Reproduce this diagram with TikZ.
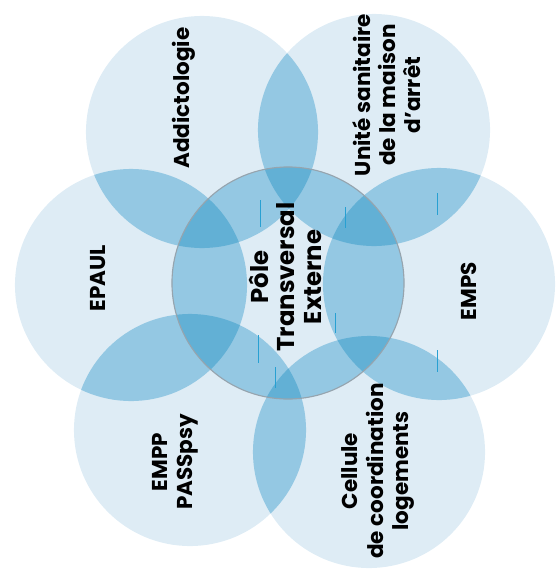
\documentclass[tikz,border=0pt]{standalone}
\usepackage{fontspec}
\setmainfont{Poppins}
\usepackage{tikz}
\usetikzlibrary{positioning,calc}
\definecolor{lite}{RGB}{222,236,245}
\definecolor{mid}{RGB}{148,200,227}
\definecolor{deep}{RGB}{98,176,213}
\definecolor{rim}{RGB}{150,164,174}
\definecolor{tick}{RGB}{40,160,210}
\newcommand{\rad}{2.9cm}
\newcommand{\petalfont}{\fontsize{15.3}{17.8}\selectfont\bfseries}
\newcommand{\hubfont}{\fontsize{17.3}{18.9}\selectfont\bfseries}
\tikzset{petal/.style={rotate=90,align=center,font=\petalfont},
         hub/.style={rotate=90,align=center,font=\hubfont}}

\begin{document}
\begin{tikzpicture}[x=0.025cm,y=-0.025cm]
    \useasboundingbox (0,0) rectangle (557,572);
    \coordinate (pole) at (288,283);
    \coordinate (addicto) at (202,132);  \coordinate (usma) at (374,130);
    \coordinate (epaul) at (131,285);    \coordinate (emps) at (439,284);
    \coordinate (empp) at (190,430);     \coordinate (cellule) at (369,452);
    	\foreach \c in {pole,addicto,usma,emps,cellule,empp,epaul}
     		\fill[lite] (\c) circle (\rad);
    	\foreach \c in {addicto,usma,emps,cellule,empp,epaul}
     		{\begin{scope} \clip (pole) circle (\rad); \fill[mid] (\c) circle (\rad); \end{scope}}
    	\foreach \a/\b in {addicto/usma,usma/emps,emps/cellule,cellule/empp,empp/epaul,epaul/addicto}
     		{\begin{scope} \clip (\a) circle (\rad); \fill[mid] (\b) circle (\rad); \end{scope}
     		 \begin{scope} \clip (pole) circle (\rad); \clip (\a) circle (\rad); \fill[deep] (\b) circle (\rad); \end{scope}}
		\draw[rim,line width=0.8pt] (pole) circle (\rad);
    	\foreach \x/\ya/\yb in {260/200/227,345/207/228,258/335/363,335/313/333,275/367/388,437/193/215,437/350/372}
     		\draw[tick,line width=0.6pt] (\x,\ya) -- (\x,\yb);
		\node[hub] (pte) at (285,277) {Pôle\\Transversal\\Externe};
		\node[petal] (addictologie) at (184,98) {Addictologie};
		\node[petal] (unite) at (387,95) {Unité sanitaire\\de la maison\\d’arrêt};
		\node[petal] (epaulnode) at (98,278) {EPAUL};
		\node[petal] (empsnode) at (469,291) {EMPS};
		\node[petal] (emppnode) at (175,462) {EMPP\\PASSpsy};
		\node[petal] (cellnode) at (378,471) {Cellule\\de coordination\\logements};
\end{tikzpicture}
\end{document}
